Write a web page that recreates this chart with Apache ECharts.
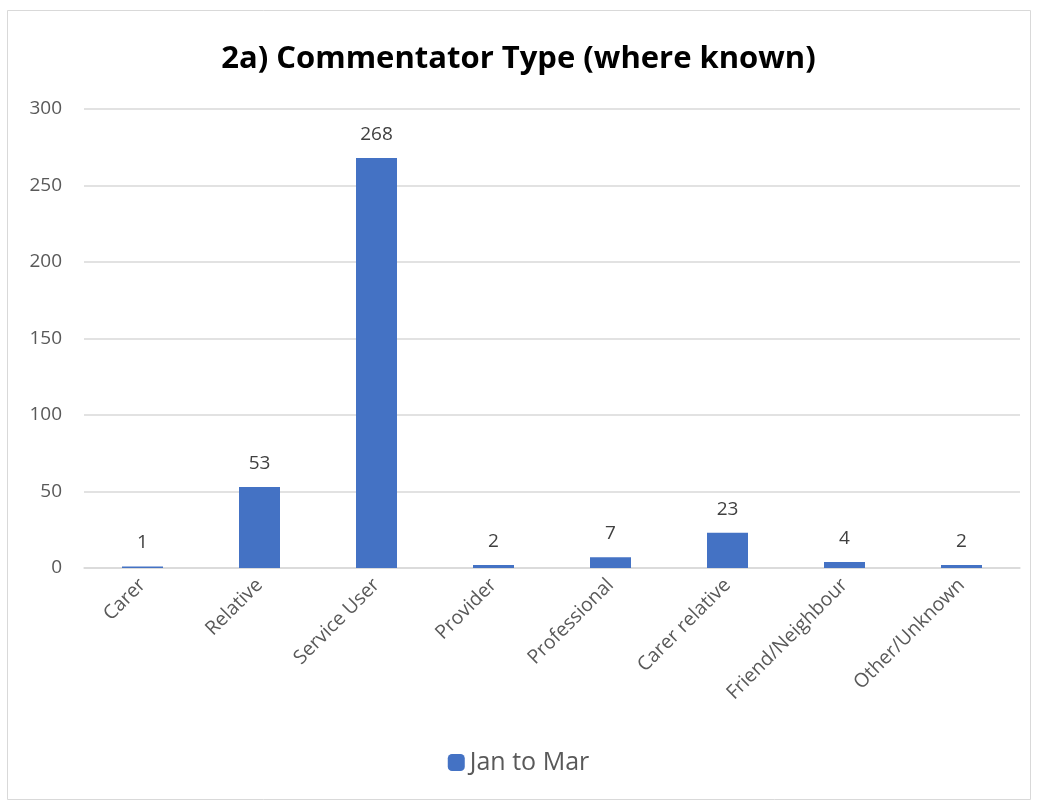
<!DOCTYPE html>
<html>
<head>
<meta charset="utf-8">
<script src="https://cdn.jsdelivr.net/npm/echarts@6/dist/echarts.min.js"></script>
<style>
  html, body { margin: 0; padding: 0; background: #fff; }
  #chart { width: 1037px; height: 806px; }
</style>
</head>
<body>
<div id="chart"></div>
<script>
// Commentator categories and counts for the quarter
const categories = ['Carer', 'Relative', 'Service User', 'Provider', 'Professional', 'Carer relative', 'Friend/Neighbour', 'Other/Unknown'];
const janToMar = [1, 53, 268, 2, 7, 23, 4, 2];
const yTicks = [0, 50, 100, 150, 200, 250, 300];

const labelFont = '"Open Sans", "Noto Sans", sans-serif';
const chart = echarts.init(document.getElementById('chart'));
chart.setOption({
  backgroundColor: '#ffffff',
  animation: false,
  graphic: [{
    type: 'rect',
    shape: { x: 7.5, y: 10.5, width: 1023, height: 789 },
    style: { fill: 'none', stroke: '#d9d9d9', lineWidth: 1 },
    silent: true
  }],
  title: {
    text: '2a) Commentator Type (where known)',
    left: 'center',
    top: 39,
    textStyle: { fontFamily: labelFont, fontWeight: 'bold', fontSize: 31, color: '#000' }
  },
  legend: {
    bottom: 26,
    left: 'center',
    itemWidth: 17,
    itemHeight: 17,
    itemGap: 8,
    textStyle: { fontFamily: labelFont, fontSize: 25, color: '#595959' },
    data: ['Jan to Mar']
  },
  grid: { left: 84, right: 17, top: 109, bottom: 238, containLabel: false },
  xAxis: {
    type: 'category',
    data: categories,
    axisLine: { lineStyle: { color: '#d9d9d9', width: 1.5 } },
    axisTick: { show: false },
    axisLabel: { rotate: 45, margin: 14, fontFamily: labelFont, fontSize: 19.5, color: '#595959', interval: 0 }
  },
  yAxis: {
    type: 'value',
    min: yTicks[0],
    max: yTicks[yTicks.length - 1],
    interval: 50,
    axisLine: { show: false },
    axisTick: { show: false },
    splitLine: { lineStyle: { color: '#d9d9d9', width: 1.5 } },
    axisLabel: { margin: 22, fontFamily: labelFont, fontSize: 19, color: '#595959' }
  },
  series: [{
    name: 'Jan to Mar',
    type: 'bar',
    data: janToMar,
    barWidth: 41,
    itemStyle: { color: '#4472c4' },
    label: { show: true, position: 'top', distance: 14, fontFamily: labelFont, fontSize: 19, color: '#404040' }
  }]
});
</script>
</body>
</html>
